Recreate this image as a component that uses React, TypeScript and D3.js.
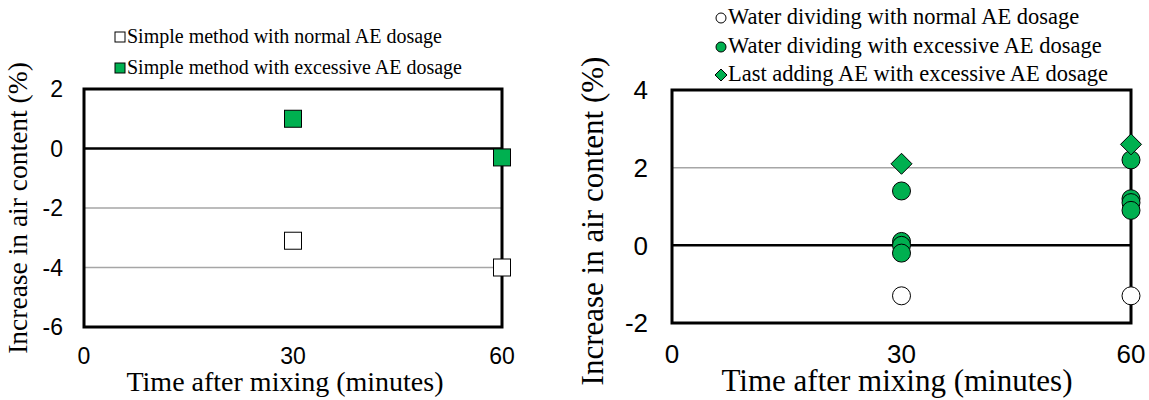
import React from "react";
import * as d3 from "d3";

const xTicks = [0, 30, 60];
const leftYTicks = [2, 0, -2, -4, -6];
const rightYTicks = [4, 2, 0, -2];

const simpleNormalT = [30, 60];
const simpleNormalV = [-3.1, -4.0];
const simpleExcessT = [30, 60];
const simpleExcessV = [1.0, -0.3];

const waterNormalT = [30, 60];
const waterNormalV = [-1.3, -1.3];
const waterExcessT = [30, 30, 30, 30, 60, 60, 60, 60];
const waterExcessV = [1.4, 0.1, 0.0, -0.2, 2.2, 1.2, 1.1, 0.9];
const lastAddingT = [30, 60];
const lastAddingV = [2.1, 2.6];

const leftLegend = ["Simple method with normal AE dosage", "Simple method with excessive AE dosage"];
const rightLegend = [
  "Water dividing with normal AE dosage",
  "Water dividing with excessive AE dosage",
  "Last adding AE with excessive AE dosage",
];
const xTitle = "Time after mixing (minutes)";
const yTitle = "Increase in air content (%)";

const GREEN = "#00B050";
const SERIF = "'Liberation Serif', 'Times New Roman', serif";
const SANS = "'Liberation Sans', Arial, sans-serif";

function Square({ x, y, s, fill }: any) {
  return <rect x={x - s / 2} y={y - s / 2} width={s} height={s} fill={fill} stroke="#000" strokeWidth={1} />;
}
function Circle({ x, y, r, fill }: any) {
  return <circle cx={x} cy={y} r={r} fill={fill} stroke="#000" strokeWidth={1} />;
}
function Diamond({ x, y, r, fill }: any) {
  const p = `M${x},${y - r}L${x + r},${y}L${x},${y + r}L${x - r},${y}Z`;
  return <path d={p} fill={fill} stroke="#000" strokeWidth={1} />;
}

function Panel({ left, right, top, bottom, yDomain, yTicks, grid, tickSize, titleSize, yTitleSize, labelRight, xLabelY, yTitleX, xTitleX, yTitleY, children }: any) {
  const x = d3.scaleLinear().domain([0, 60]).range([left, right]);
  const y = d3.scaleLinear().domain(yDomain).range([bottom, top]);
  return (
    <g>
      {grid.map((g: number) => (
        <line key={"g" + g} x1={left} x2={right} y1={y(g)} y2={y(g)} stroke="#a6a6a6" strokeWidth={1.5} />
      ))}
      <line x1={left} x2={right} y1={y(0)} y2={y(0)} stroke="#000" strokeWidth={2.5} />
      <rect x={left} y={top} width={right - left} height={bottom - top} fill="none" stroke="#000" strokeWidth={3} />
      {yTicks.map((t: number) => (
        <text key={"y" + t} x={labelRight} y={y(t)} dy="0.36em" textAnchor="end" fontFamily={SANS} fontSize={tickSize}>
          {t}
        </text>
      ))}
      {xTicks.map((t) => (
        <text key={"x" + t} x={x(t)} y={xLabelY} textAnchor="middle" fontFamily={SANS} fontSize={tickSize}>
          {t}
        </text>
      ))}
      <text x={xTitleX} y={391} textAnchor="middle" fontFamily={SERIF} fontSize={titleSize}>
        {xTitle}
      </text>
      <text
        transform={`translate(${yTitleX},${yTitleY}) rotate(-90)`}
        textAnchor="middle"
        fontFamily={SERIF}
        fontSize={yTitleSize}
      >
        {yTitle}
      </text>
      {children(x, y)}
    </g>
  );
}

export default function App() {
  return (
    <svg width={1149} height={400} style={{ position: "absolute", left: 0, top: 0, background: "#fff" }}>
      <rect width={1149} height={400} fill="#fff" />
      {/* Left legend */}
      <g>
        <Square x={120} y={37} s={10} fill="#fff" />
        <text x={127} y={43} fontFamily={SERIF} fontSize={20}>{leftLegend[0]}</text>
        <Square x={120} y={68} s={10} fill={GREEN} />
        <text x={127} y={74} fontFamily={SERIF} fontSize={20}>{leftLegend[1]}</text>
      </g>
      <Panel
        left={84}
        right={502}
        top={89}
        bottom={327}
        yDomain={[-6, 2]}
        yTicks={leftYTicks}
        grid={[-2, -4]}
        tickSize={23}
        titleSize={28}
        yTitleSize={27.5}
        labelRight={63}
        xLabelY={364}
        yTitleX={27}
        xTitleX={285}
        yTitleY={208}
      >
        {(x: any, y: any) => (
          <g>
            {simpleNormalT.map((t, i) => (
              <Square key={"sn" + i} x={x(t)} y={y(simpleNormalV[i])} s={17} fill="#fff" />
            ))}
            {simpleExcessT.map((t, i) => (
              <Square key={"se" + i} x={x(t)} y={y(simpleExcessV[i])} s={17} fill={GREEN} />
            ))}
          </g>
        )}
      </Panel>
      {/* Right legend */}
      <g>
        <Circle x={721} y={18} r={5} fill="#fff" />
        <text x={728} y={24} fontFamily={SERIF} fontSize={22.5}>{rightLegend[0]}</text>
        <Circle x={721} y={47} r={5} fill={GREEN} />
        <text x={728} y={53} fontFamily={SERIF} fontSize={22.5}>{rightLegend[1]}</text>
        <Diamond x={721} y={75} r={6} fill={GREEN} />
        <text x={728} y={81} fontFamily={SERIF} fontSize={22.5}>{rightLegend[2]}</text>
      </g>
      <Panel
        left={672}
        right={1131}
        top={90}
        bottom={323}
        yDomain={[-2, 4]}
        yTicks={rightYTicks}
        grid={[2]}
        tickSize={26}
        titleSize={31}
        yTitleSize={31}
        labelRight={648}
        xLabelY={363}
        yTitleX={603}
        xTitleX={897}
        yTitleY={221}
      >
        {(x: any, y: any) => (
          <g>
            {waterNormalT.map((t, i) => (
              <Circle key={"wn" + i} x={x(t)} y={y(waterNormalV[i])} r={9} fill="#fff" />
            ))}
            {waterExcessT.map((t, i) => (
              <Circle key={"we" + i} x={x(t)} y={y(waterExcessV[i])} r={9} fill={GREEN} />
            ))}
            {lastAddingT.map((t, i) => (
              <Diamond key={"la" + i} x={x(t)} y={y(lastAddingV[i])} r={10.5} fill={GREEN} />
            ))}
          </g>
        )}
      </Panel>
    </svg>
  );
}
